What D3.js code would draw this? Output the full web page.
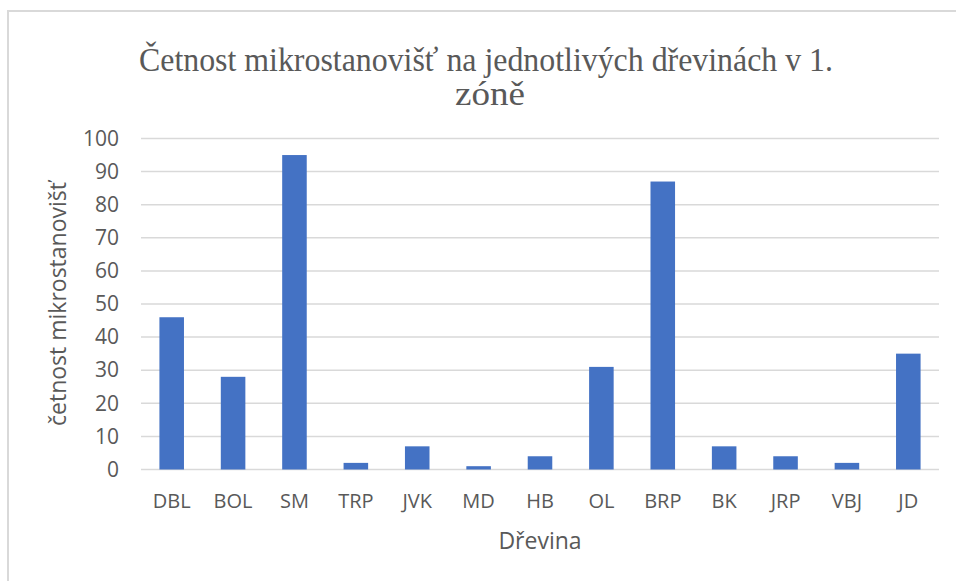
<!DOCTYPE html>
<html>
<head>
<meta charset="utf-8">
<script src="https://cdn.jsdelivr.net/npm/d3@7"></script>
<style>
  body { margin: 0; background: #fff; }
  svg { display: block; }
</style>
</head>
<body>
<div id="main"></div>
<script>
const categories = ['DBL', 'BOL', 'SM', 'TRP', 'JVK', 'MD', 'HB', 'OL', 'BRP', 'BK', 'JRP', 'VBJ', 'JD'];
const values = [46, 28, 95, 2, 7, 1, 4, 31, 87, 7, 4, 2, 35];
const yTicks = [0, 10, 20, 30, 40, 50, 60, 70, 80, 90, 100];

const width = 956, height = 581;
const plotLeft = 141, plotRight = 939, plotTop = 138.5, plotBottom = 469.5;
const grey = '#595959';
const sans = '"Open Sans", "Noto Sans", sans-serif';

const svg = d3.select('#main').append('svg')
  .attr('width', width).attr('height', height);

// chart frame (only top and left edges are visible)
svg.append('path')
  .attr('d', `M8,${height} V11 H${width}`)
  .attr('fill', 'none').attr('stroke', '#d9d9d9').attr('stroke-width', 2);

const x = d3.scaleBand().domain(categories).range([plotLeft, plotRight]).paddingInner(0.6).paddingOuter(0.3);
const y = d3.scaleLinear().domain([0, 100]).range([plotBottom, plotTop]);

// gridlines
svg.append('g')
  .selectAll('line').data(yTicks).join('line')
  .attr('x1', plotLeft).attr('x2', plotRight)
  .attr('y1', d => y(d)).attr('y2', d => y(d))
  .attr('stroke', '#d9d9d9').attr('stroke-width', 1.5);

// bars
svg.append('g')
  .selectAll('rect').data(values).join('rect')
  .attr('x', (d, i) => x(categories[i]))
  .attr('width', x.bandwidth())
  .attr('y', d => y(d))
  .attr('height', d => y(0) - y(d))
  .attr('fill', '#4472c4');

// y axis labels
const yAxis = svg.append('g')
  .attr('transform', `translate(${plotLeft - 22},0)`)
  .call(d3.axisLeft(y).tickValues(yTicks).tickSize(0).tickPadding(0));
yAxis.select('.domain').remove();
yAxis.selectAll('text')
  .attr('fill', grey).style('font-family', sans).style('font-size', '21px');

// x axis labels
const xAxis = svg.append('g')
  .attr('transform', `translate(0,${plotBottom})`)
  .call(d3.axisBottom(x).tickSize(0).tickPadding(24));
xAxis.select('.domain').remove();
xAxis.selectAll('text')
  .attr('fill', grey).style('font-family', sans).style('font-size', '20px');

// axis titles
svg.append('text')
  .attr('x', (plotLeft + plotRight) / 2).attr('y', 549)
  .attr('text-anchor', 'middle')
  .attr('fill', grey).style('font-family', sans).style('font-size', '23px')
  .text('Dřevina');

svg.append('text')
  .attr('transform', `translate(66,${(plotTop + plotBottom) / 2}) rotate(-90)`)
  .attr('text-anchor', 'middle')
  .attr('fill', grey).style('font-family', sans).style('font-size', '23px')
  .text('četnost mikrostanovišť');

// title
const title = svg.append('g')
  .attr('fill', grey).style('font-family', '"Liberation Serif", "DejaVu Serif", serif').style('font-size', '33px');
title.append('text').attr('x', 486).attr('y', 71).attr('text-anchor', 'middle')
  .attr('textLength', 694).attr('lengthAdjust', 'spacingAndGlyphs')
  .text('Četnost mikrostanovišť na jednotlivých dřevinách v 1.');
title.append('text').attr('x', 490).attr('y', 105).attr('text-anchor', 'middle')
  .attr('textLength', 70).attr('lengthAdjust', 'spacingAndGlyphs')
  .text('zóně');
</script>
</body>
</html>
